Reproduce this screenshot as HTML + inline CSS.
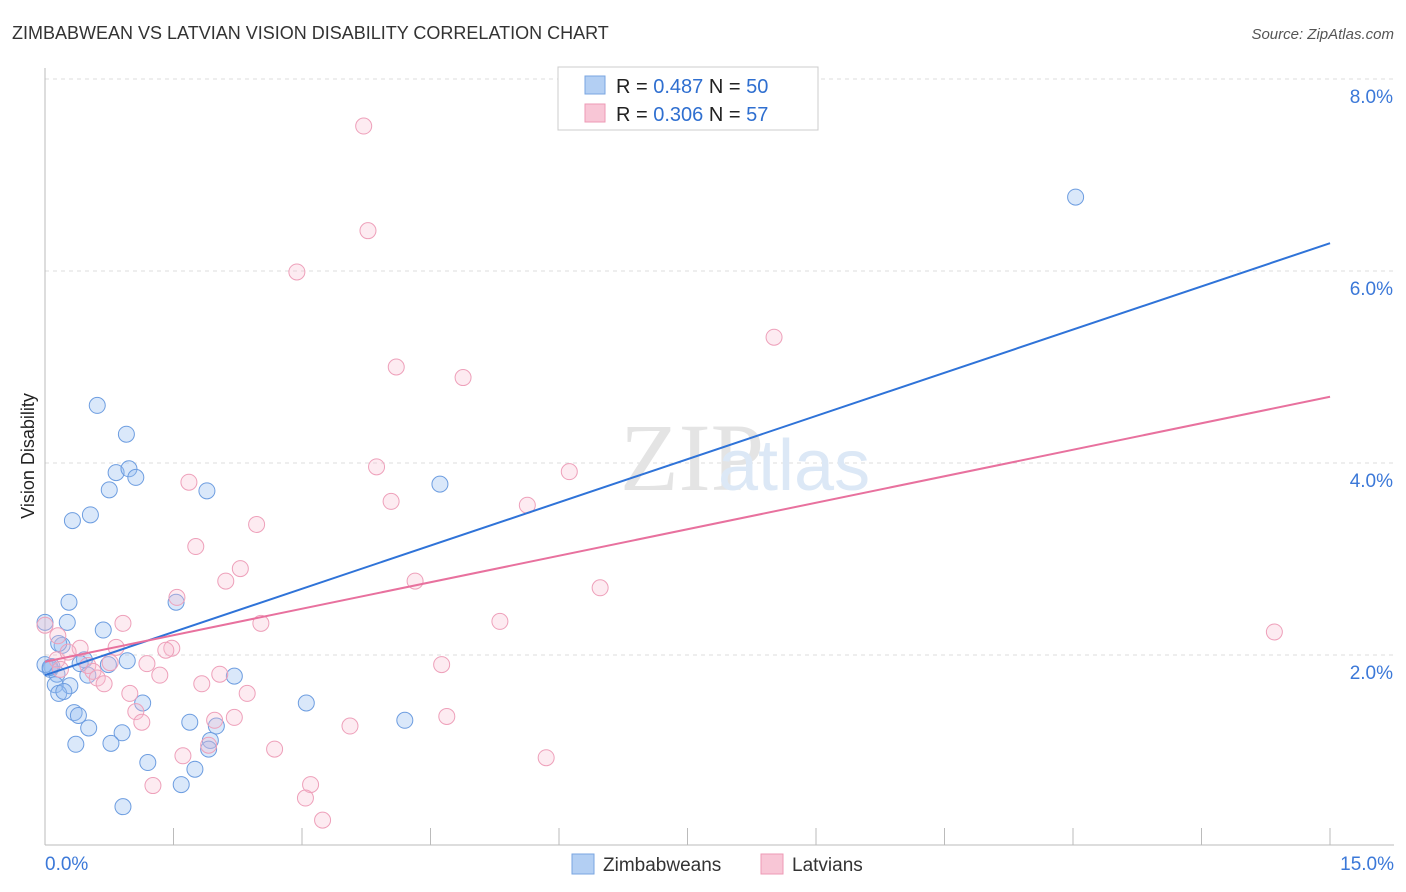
<!DOCTYPE html>
<html><head><meta charset="utf-8"><style>
body{margin:0;background:#fff;font-family:"Liberation Sans",sans-serif;}
svg{display:block}
</style></head><body>
<svg id="chart" width="1406" height="892">
<text x="12" y="39" font-size="18" fill="#333">ZIMBABWEAN VS LATVIAN VISION DISABILITY CORRELATION CHART</text>
<text x="1394" y="39" font-size="15" fill="#555" font-style="italic" text-anchor="end">Source: ZipAtlas.com</text>
<text x="34" y="456" font-size="18" fill="#222" transform="rotate(-90 34 456)" text-anchor="middle">Vision Disability</text>
<g id="grid"></g>
<g id="axes"></g>
<text x="620" y="490" font-size="96" fill="#e4e4e4" font-family="Liberation Serif">ZIP</text>
<text x="718" y="490" font-size="72" fill="#dce8f6">atlas</text>
<g id="points"></g>
<g id="lines"></g>
<g>
<rect x="558" y="67" width="260" height="63" fill="#fff" stroke="#ccc"/>
<rect x="585" y="76" width="20" height="18" fill="#b3cff3" stroke="#7aa6e0"/>
<rect x="585" y="104" width="20" height="18" fill="#f8c6d6" stroke="#ee9ab5"/>
<text x="616" y="93" font-size="20" fill="#222">R = <tspan fill="#2f6fd0">0.487</tspan>   N = <tspan fill="#2f6fd0">50</tspan></text>
<text x="616" y="121" font-size="20" fill="#222">R = <tspan fill="#2f6fd0">0.306</tspan>   N = <tspan fill="#2f6fd0"> 57</tspan></text>
</g>
<g>
<rect x="572" y="854" width="22" height="20" fill="#b3cff3" stroke="#7aa6e0"/>
<text x="603" y="871" font-size="19" fill="#333">Zimbabweans</text>
<rect x="761" y="854" width="22" height="20" fill="#f8c6d6" stroke="#ee9ab5"/>
<text x="792" y="871" font-size="19" fill="#333">Latvians</text>
</g>
</svg>
<script>
const yTicks=[2,4,6,8];
const yTickLabels=["2.0%","4.0%","6.0%","8.0%"];
const xTickCount=10;
const xEndLabels=["0.0%","15.0%"];
const blueX=[12.03,0.61,0.95,0.75,1.89,4.61,0.32,0.53,0.83,0.98,1.06,0.28,1.53,0.26,0,0.68,0.2,0.16,0.46,0.41,0.74,0.96,0.08,0.06,0.14,0.5,0.12,0.29,0.16,0.22,2.21,1.14,3.05,0.34,0.39,0.51,1.69,2,4.2,0.9,0.77,0.36,1.93,1.91,1.2,1.75,1.59,0.91,0,0.06];
const blueY=[6.77,4.6,4.3,3.72,3.71,3.78,3.4,3.46,3.9,3.94,3.85,2.55,2.55,2.34,2.34,2.26,2.1,2.12,1.95,1.91,1.9,1.94,1.88,1.85,1.8,1.79,1.69,1.68,1.6,1.62,1.78,1.5,1.5,1.4,1.37,1.24,1.3,1.26,1.32,1.19,1.08,1.07,1.11,1.02,0.88,0.81,0.65,0.42,1.9,1.87];
const pinkX=[3.72,3.77,2.94,8.51,4.1,4.88,3.87,6.12,1.68,4.04,5.63,2.47,1.76,2.28,2.11,4.32,6.48,1.54,0.91,2.52,5.31,14.35,0,0.15,0.83,0.41,1.48,1.41,0.76,1.19,4.63,0.14,0.5,2.04,0.56,1.34,0.61,0.69,1.83,0.99,2.36,1.06,1.13,2.21,1.98,3.56,4.69,2.68,1.91,1.61,5.85,3.1,1.26,3.04,3.24,0.18,0.27];
const pinkY=[7.51,6.42,5.99,5.31,5.0,4.89,3.96,3.91,3.8,3.6,3.56,3.36,3.13,2.9,2.77,2.77,2.7,2.6,2.33,2.33,2.35,2.24,2.31,2.2,2.08,2.07,2.07,2.05,1.92,1.91,1.9,1.95,1.89,1.8,1.83,1.79,1.76,1.7,1.7,1.6,1.6,1.41,1.3,1.35,1.32,1.26,1.36,1.02,1.06,0.95,0.93,0.65,0.64,0.51,0.28,1.85,2.03];
const blueLine=[1.79,6.29];
const pinkLine=[1.93,4.69];
const X=v=>45+v*85.67, Y=v=>847-v*96;
const NS="http://www.w3.org/2000/svg";
function mk(t,a,p){const e=document.createElementNS(NS,t);for(const k in a)e.setAttribute(k,a[k]);p.appendChild(e);return e;}
const grid=document.getElementById('grid'),axes=document.getElementById('axes');
yTicks.forEach((t,i)=>{
 const g=mk('line',{x1:45,x2:1394,y1:Y(t),y2:Y(t),stroke:'#ddd','stroke-dasharray':'4 4'},grid);
 
 
 const l=mk('text',{x:1393,y:Y(t)+24,'font-size':19,fill:'#3b78d8','text-anchor':'end'},axes);
 l.textContent=yTickLabels[i];
 
 
});
const xa=mk('line',{x1:45,x2:1394,y1:845,y2:845,stroke:'#bbb'},axes);


const ya=mk('line',{x1:45,x2:45,y1:68,y2:845,stroke:'#bbb'},axes);


for(let i=1;i<=xTickCount;i++){const x=45+i*128.5;
 const t=mk('line',{x1:x,x2:x,y1:828,y2:845,stroke:'#bbb'},axes);
 
 }
[[45,'start',0],[1394,'end',1]].forEach(([x,a,i])=>{
 const l=mk('text',{x:x,y:870,'font-size':19,fill:'#3b78d8','text-anchor':a},axes);
 l.textContent=xEndLabels[i];
 
 });
const pts=document.getElementById('points');
blueX.forEach((v,i)=>{
 const c=mk('circle',{cx:X(v),cy:Y(blueY[i]),r:8,fill:'rgba(150,190,240,0.35)',stroke:'#6d9de0','stroke-width':1},pts);
 
 });
pinkX.forEach((v,i)=>{
 const c=mk('circle',{cx:X(v),cy:Y(pinkY[i]),r:8,fill:'rgba(248,190,210,0.3)',stroke:'#eea0ba','stroke-width':1},pts);
 
 });
const ln=document.getElementById('lines');
const bl=mk('line',{x1:X(0),y1:Y(blueLine[0]),x2:X(15),y2:Y(blueLine[1]),stroke:'#2f73d8','stroke-width':2},ln);


const pl=mk('line',{x1:X(0),y1:Y(pinkLine[0]),x2:X(15),y2:Y(pinkLine[1]),stroke:'#e8719e','stroke-width':2},ln);


</script>
</body></html>
